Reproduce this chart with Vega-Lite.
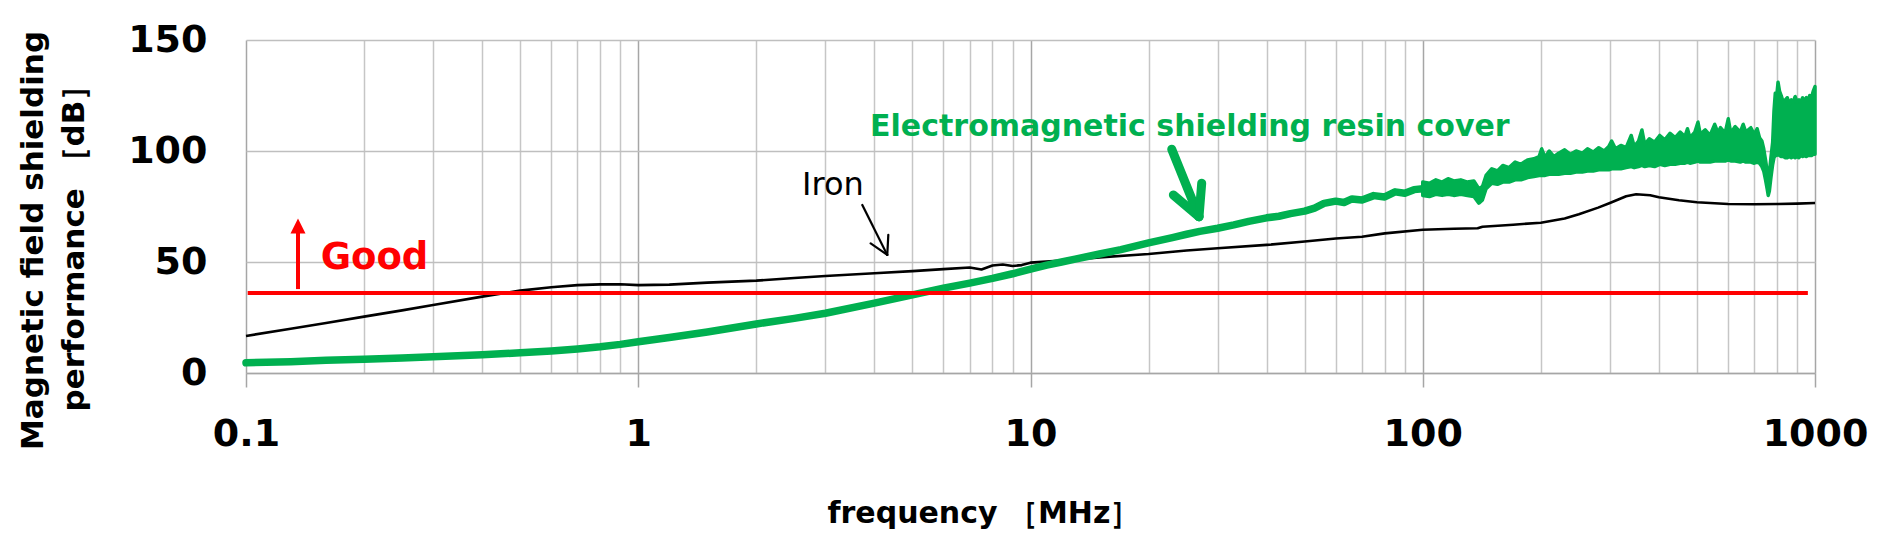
{
  "$schema": "https://vega.github.io/schema/vega-lite/v6.json",
  "width": 1569,
  "height": 333,
  "autosize": {"type": "none"},
  "padding": {"left": 246, "top": 40, "right": 85, "bottom": 165},
  "background": "white",
  "config": {"view": {"stroke": null}, "font": "DejaVu Sans"},
  "datasets": {
    "iron": [
      {"freq": 0.1, "db": 16.7}, {"freq": 0.13, "db": 19.9}, {"freq": 0.16, "db": 22.5}, {"freq": 0.2, "db": 25.4},
      {"freq": 0.25, "db": 28.2}, {"freq": 0.3, "db": 30.6}, {"freq": 0.4, "db": 34.4}, {"freq": 0.5, "db": 37.1},
      {"freq": 0.6, "db": 38.6}, {"freq": 0.7, "db": 39.6}, {"freq": 0.8, "db": 39.9}, {"freq": 0.9, "db": 40},
      {"freq": 1, "db": 39.6}, {"freq": 1.2, "db": 39.8}, {"freq": 1.5, "db": 40.7}, {"freq": 2, "db": 41.6},
      {"freq": 2.5, "db": 42.8}, {"freq": 3, "db": 43.7}, {"freq": 4, "db": 44.9}, {"freq": 5, "db": 45.9},
      {"freq": 6, "db": 46.8}, {"freq": 7, "db": 47.5}, {"freq": 7.5, "db": 46.6}, {"freq": 8, "db": 48.4},
      {"freq": 8.5, "db": 48.9}, {"freq": 9, "db": 48.2}, {"freq": 9.5, "db": 48.6}, {"freq": 10, "db": 49.7},
      {"freq": 12, "db": 50.6}, {"freq": 15, "db": 52.1}, {"freq": 20, "db": 53.6}, {"freq": 25, "db": 55.2},
      {"freq": 30, "db": 56.2}, {"freq": 40, "db": 57.7}, {"freq": 50, "db": 59.2}, {"freq": 60, "db": 60.6},
      {"freq": 70, "db": 61.4}, {"freq": 80, "db": 62.9}, {"freq": 100, "db": 64.5}, {"freq": 120, "db": 65},
      {"freq": 138, "db": 65.2}, {"freq": 142, "db": 65.9}, {"freq": 170, "db": 66.8}, {"freq": 200, "db": 67.7},
      {"freq": 230, "db": 69.6}, {"freq": 250, "db": 71.5}, {"freq": 280, "db": 74.5}, {"freq": 300, "db": 76.6},
      {"freq": 330, "db": 79.6}, {"freq": 350, "db": 80.5}, {"freq": 380, "db": 80.1}, {"freq": 400, "db": 79.2},
      {"freq": 450, "db": 77.8}, {"freq": 500, "db": 76.9}, {"freq": 600, "db": 76.1}, {"freq": 700, "db": 76},
      {"freq": 800, "db": 76.1}, {"freq": 900, "db": 76.3}, {"freq": 1000, "db": 76.6}
    ],
    "resin": [
      {"freq": 0.1, "db": 4.6}, {"freq": 0.13, "db": 5.1}, {"freq": 0.16, "db": 5.7}, {"freq": 0.2, "db": 6.2},
      {"freq": 0.25, "db": 6.8}, {"freq": 0.3, "db": 7.3}, {"freq": 0.4, "db": 8.2}, {"freq": 0.5, "db": 9.1},
      {"freq": 0.6, "db": 9.9}, {"freq": 0.7, "db": 10.8}, {"freq": 0.8, "db": 11.8}, {"freq": 0.9, "db": 12.9},
      {"freq": 1, "db": 14.1}, {"freq": 1.2, "db": 16.0}, {"freq": 1.5, "db": 18.5}, {"freq": 2, "db": 22.1},
      {"freq": 2.5, "db": 24.6}, {"freq": 3, "db": 26.9}, {"freq": 4, "db": 31.5}, {"freq": 5, "db": 35.2},
      {"freq": 6, "db": 38.2}, {"freq": 7, "db": 40.5}, {"freq": 8, "db": 42.6}, {"freq": 9, "db": 44.7},
      {"freq": 10, "db": 46.8}, {"freq": 11, "db": 48.6}, {"freq": 12, "db": 50}, {"freq": 13, "db": 51.3},
      {"freq": 15, "db": 53.6}, {"freq": 17, "db": 55.6}, {"freq": 20, "db": 58.6}, {"freq": 23, "db": 61},
      {"freq": 25, "db": 62.5}, {"freq": 27, "db": 63.8}, {"freq": 30, "db": 65.2}, {"freq": 33, "db": 66.7},
      {"freq": 36, "db": 68.3}, {"freq": 40, "db": 69.9}, {"freq": 43, "db": 70.6}, {"freq": 46, "db": 71.8},
      {"freq": 50, "db": 72.9}, {"freq": 53, "db": 74.3}, {"freq": 56, "db": 76.4}, {"freq": 60, "db": 77.4},
      {"freq": 63, "db": 76.8}, {"freq": 66, "db": 78.4}, {"freq": 70, "db": 77.9}, {"freq": 75, "db": 79.9},
      {"freq": 80, "db": 79.3}, {"freq": 85, "db": 81.6}, {"freq": 90, "db": 81}, {"freq": 95, "db": 82.6},
      {"freq": 100, "db": 83}, {"freq": 104, "db": 82.5}
    ],
    "resinband": [
      {"freq": 100, "db": 80, "db2": 86}, {"freq": 104, "db": 79.5, "db2": 85.5}, {"freq": 108, "db": 80.5, "db2": 87},
      {"freq": 112, "db": 80, "db2": 86}, {"freq": 116, "db": 80.5, "db2": 87.5}, {"freq": 120, "db": 80, "db2": 86.5},
      {"freq": 125, "db": 80.5, "db2": 87}, {"freq": 130, "db": 80, "db2": 86}, {"freq": 135, "db": 79.5, "db2": 86.5},
      {"freq": 139, "db": 76.5, "db2": 83}, {"freq": 142, "db": 78, "db2": 84}, {"freq": 145, "db": 83, "db2": 89},
      {"freq": 150, "db": 85.5, "db2": 92}, {"freq": 155, "db": 85, "db2": 91}, {"freq": 160, "db": 86, "db2": 93.5},
      {"freq": 166, "db": 86, "db2": 92.5}, {"freq": 172, "db": 87, "db2": 95}, {"freq": 178, "db": 87, "db2": 94},
      {"freq": 185, "db": 88, "db2": 96}, {"freq": 192, "db": 88.5, "db2": 96.5}, {"freq": 198, "db": 89, "db2": 97.5},
      {"freq": 201, "db": 89, "db2": 101}, {"freq": 205, "db": 89, "db2": 97}, {"freq": 210, "db": 89.5, "db2": 100},
      {"freq": 216, "db": 89.5, "db2": 97.5}, {"freq": 222, "db": 89.5, "db2": 99}, {"freq": 230, "db": 90, "db2": 100.5},
      {"freq": 238, "db": 90, "db2": 98.5}, {"freq": 246, "db": 90.5, "db2": 100}, {"freq": 255, "db": 90.5, "db2": 99},
      {"freq": 263, "db": 91, "db2": 101}, {"freq": 272, "db": 91, "db2": 99.5}, {"freq": 281, "db": 91.5, "db2": 101.5},
      {"freq": 290, "db": 91.5, "db2": 100}, {"freq": 298, "db": 91.5, "db2": 102}, {"freq": 303, "db": 92, "db2": 104.5},
      {"freq": 310, "db": 92, "db2": 101}, {"freq": 320, "db": 92, "db2": 102.5}, {"freq": 330, "db": 92.5, "db2": 101.5},
      {"freq": 340, "db": 93, "db2": 107}, {"freq": 346, "db": 92.5, "db2": 102}, {"freq": 355, "db": 93, "db2": 104.5},
      {"freq": 362, "db": 93.5, "db2": 109.5}, {"freq": 368, "db": 93, "db2": 103}, {"freq": 378, "db": 93.5, "db2": 105.5},
      {"freq": 390, "db": 93, "db2": 104}, {"freq": 402, "db": 94, "db2": 107}, {"freq": 414, "db": 93.5, "db2": 105},
      {"freq": 427, "db": 94, "db2": 108}, {"freq": 440, "db": 94, "db2": 106}, {"freq": 453, "db": 94.5, "db2": 108.5},
      {"freq": 466, "db": 94.5, "db2": 106.5}, {"freq": 473, "db": 95, "db2": 110}, {"freq": 480, "db": 94.5, "db2": 106},
      {"freq": 494, "db": 95, "db2": 108.5}, {"freq": 503, "db": 95.5, "db2": 113}, {"freq": 510, "db": 95, "db2": 107.5},
      {"freq": 525, "db": 95, "db2": 109.5}, {"freq": 540, "db": 95, "db2": 107}, {"freq": 555, "db": 95.5, "db2": 112},
      {"freq": 566, "db": 95.5, "db2": 108}, {"freq": 574, "db": 95.5, "db2": 110.5}, {"freq": 590, "db": 95.5, "db2": 108},
      {"freq": 601, "db": 96, "db2": 114.5}, {"freq": 610, "db": 95.5, "db2": 108}, {"freq": 626, "db": 95.5, "db2": 111},
      {"freq": 645, "db": 95, "db2": 108.5}, {"freq": 656, "db": 95.5, "db2": 112}, {"freq": 666, "db": 95, "db2": 108.5},
      {"freq": 686, "db": 95, "db2": 110.5}, {"freq": 700, "db": 94.5, "db2": 107.5}, {"freq": 712, "db": 95, "db2": 110},
      {"freq": 722, "db": 94.5, "db2": 106}, {"freq": 732, "db": 93, "db2": 104.5}, {"freq": 740, "db": 91, "db2": 101},
      {"freq": 748, "db": 87, "db2": 96}, {"freq": 755, "db": 83, "db2": 91}, {"freq": 760, "db": 80, "db2": 87},
      {"freq": 765, "db": 82, "db2": 90}, {"freq": 772, "db": 88, "db2": 97}, {"freq": 780, "db": 94, "db2": 104},
      {"freq": 786, "db": 97, "db2": 118}, {"freq": 792, "db": 98, "db2": 126}, {"freq": 798, "db": 98, "db2": 124},
      {"freq": 805, "db": 99, "db2": 131}, {"freq": 812, "db": 98, "db2": 127}, {"freq": 820, "db": 97.5, "db2": 125},
      {"freq": 830, "db": 97.5, "db2": 122}, {"freq": 840, "db": 97, "db2": 123}, {"freq": 850, "db": 97, "db2": 124},
      {"freq": 860, "db": 97.5, "db2": 121}, {"freq": 870, "db": 97, "db2": 123}, {"freq": 880, "db": 97.5, "db2": 122},
      {"freq": 890, "db": 97, "db2": 124.5}, {"freq": 900, "db": 97.5, "db2": 122}, {"freq": 910, "db": 97, "db2": 123},
      {"freq": 920, "db": 98, "db2": 122}, {"freq": 930, "db": 97.5, "db2": 124}, {"freq": 940, "db": 98, "db2": 122.5},
      {"freq": 950, "db": 97.5, "db2": 124}, {"freq": 960, "db": 98, "db2": 123}, {"freq": 970, "db": 98, "db2": 125},
      {"freq": 980, "db": 98, "db2": 124}, {"freq": 990, "db": 98.5, "db2": 127}, {"freq": 1000, "db": 98.5, "db2": 129}
    ],
    "segments": [
      {"kind": "criterion", "freq": 0.101, "db": 36, "freq2": 959, "db2": 36},
      {"kind": "good arrow", "freq": 0.1357, "db": 37.8, "freq2": 0.1357, "db2": 63.5},
      {"kind": "iron arrow", "freq": 3.726, "db": 75.7, "freq2": 4.314, "db2": 53.2},
      {"kind": "iron arrow", "freq": 3.913, "db": 58.4, "freq2": 4.314, "db2": 53.2},
      {"kind": "iron arrow", "freq": 4.34, "db": 62.2, "freq2": 4.314, "db2": 53.2},
      {"kind": "resin arrow", "freq": 22.91, "db": 100.8, "freq2": 26.89, "db2": 70.4},
      {"kind": "resin arrow", "freq": 23.13, "db": 80.2, "freq2": 26.89, "db2": 70.4},
      {"kind": "resin arrow", "freq": 27.32, "db": 85.5, "freq2": 26.89, "db2": 70.4}
    ],
    "heads": [
      {"kind": "good arrow head", "freq": 0.1357, "db": 66.2}
    ],
    "labels": [
      {"kind": "good", "label": "Good", "freq": 0.155, "db": 46.7},
      {"kind": "iron", "label": "Iron", "freq": 2.615, "db": 80.2},
      {"kind": "resin", "label": "Electromagnetic shielding resin cover", "freq": 3.9, "db": 106.8}
    ]
  },
  "encoding": {
    "x": {
      "field": "freq",
      "type": "quantitative",
      "scale": {"type": "log", "domain": [0.1, 1000]},
      "axis": {
        "values": [0.1, 0.2, 0.3, 0.4, 0.5, 0.6, 0.7, 0.8, 0.9, 1, 2, 3, 4, 5, 6, 7, 8, 9, 10, 20, 30, 40, 50, 60, 70, 80, 90, 100, 200, 300, 400, 500, 600, 700, 800, 900, 1000],
        "format": "~g",
        "labelExpr": "indexof([0.1, 1, 10, 100, 1000], datum.value) >= 0 ? datum.label : ''",
        "grid": true,
        "gridColor": {"condition": {"test": "indexof([0.1, 1, 10, 100, 1000], datum.value) >= 0", "value": "#a6a6a6"}, "value": "#c6c6c6"},
        "gridWidth": 1.5,
        "ticks": true,
        "tickSize": 14,
        "tickColor": "#a6a6a6",
        "tickWidth": 1.5,
        "tickOpacity": {"condition": {"test": "indexof([0.1, 1, 10, 100, 1000], datum.value) >= 0", "value": 1}, "value": 0},
        "domain": true,
        "domainColor": "#a6a6a6",
        "domainWidth": 1.5,
        "labelFont": "DejaVu Sans",
        "labelFontWeight": "bold",
        "labelFontSize": 38,
        "labelColor": "#000000",
        "labelPadding": 28,
        "labelFlush": false,
        "labelOverlap": false,
        "labelBound": false,
        "title": "frequency ［MHz］",
        "titleFont": "DejaVu Sans",
        "titleFontWeight": "bold",
        "titleFontSize": 30,
        "titleColor": "#000000",
        "titleX": 581,
        "titleY": 149,
        "titleAlign": "left",
        "titleBaseline": "alphabetic"
      }
    },
    "y": {
      "field": "db",
      "type": "quantitative",
      "scale": {"domain": [0, 150], "nice": false},
      "axis": {
        "values": [0, 50, 100, 150],
        "grid": true,
        "gridColor": "#bfbfbf",
        "gridWidth": 1.5,
        "ticks": false,
        "domain": false,
        "labelFont": "DejaVu Sans",
        "labelFontWeight": "bold",
        "labelFontSize": 38,
        "labelColor": "#000000",
        "labelPadding": 39,
        "labelBound": false,
        "title": ["Magnetic field shielding", "performance ［dB］"],
        "titleFont": "DejaVu Sans",
        "titleFontWeight": "bold",
        "titleFontSize": 31,
        "titleColor": "#000000",
        "titleLineHeight": 41,
        "titleAngle": -90,
        "titleX": -228,
        "titleY": 200,
        "titleAlign": "center",
        "titleBaseline": "top"
      }
    }
  },
  "layer": [
    {
      "data": {"name": "iron"},
      "mark": {"type": "line", "color": "#000000", "strokeWidth": 2.6, "strokeJoin": "round"}
    },
    {
      "data": {"name": "resin"},
      "mark": {"type": "line", "color": "#00b050", "strokeWidth": 7.5, "strokeJoin": "round", "strokeCap": "round"}
    },
    {
      "data": {"name": "resinband"},
      "mark": {"type": "area", "color": "#00b050", "opacity": 1, "stroke": "#00b050", "strokeWidth": 3.5, "strokeJoin": "round"},
      "encoding": {"y2": {"field": "db2"}}
    },
    {
      "data": {"name": "segments"},
      "transform": [{"filter": "datum.kind === 'criterion'"}],
      "mark": {"type": "rule", "color": "#ff0000", "strokeWidth": 4},
      "encoding": {"x2": {"field": "freq2"}, "y2": {"field": "db2"}}
    },
    {
      "data": {"name": "segments"},
      "transform": [{"filter": "datum.kind === 'good arrow'"}],
      "mark": {"type": "rule", "color": "#ff0000", "strokeWidth": 4},
      "encoding": {"x2": {"field": "freq2"}, "y2": {"field": "db2"}}
    },
    {
      "data": {"name": "segments"},
      "transform": [{"filter": "datum.kind === 'iron arrow'"}],
      "mark": {"type": "rule", "color": "#000000", "strokeWidth": 2.2, "strokeCap": "round"},
      "encoding": {"x2": {"field": "freq2"}, "y2": {"field": "db2"}}
    },
    {
      "data": {"name": "segments"},
      "transform": [{"filter": "datum.kind === 'resin arrow'"}],
      "mark": {"type": "rule", "color": "#00b050", "strokeWidth": 9, "strokeCap": "round"},
      "encoding": {"x2": {"field": "freq2"}, "y2": {"field": "db2"}}
    },
    {
      "data": {"name": "heads"},
      "mark": {"type": "point", "shape": "M0,-1L1,1L-1,1Z", "filled": true, "color": "#ff0000", "size": 225, "opacity": 1, "strokeWidth": 0}
    },
    {
      "data": {"name": "labels"},
      "transform": [{"filter": "datum.kind === 'good'"}],
      "mark": {"type": "text", "align": "left", "baseline": "alphabetic", "font": "DejaVu Sans", "fontWeight": "bold", "fontSize": 37, "color": "#ff0000"},
      "encoding": {"text": {"field": "label"}}
    },
    {
      "data": {"name": "labels"},
      "transform": [{"filter": "datum.kind === 'iron'"}],
      "mark": {"type": "text", "align": "left", "baseline": "alphabetic", "font": "DejaVu Sans", "fontSize": 32, "color": "#000000"},
      "encoding": {"text": {"field": "label"}}
    },
    {
      "data": {"name": "labels"},
      "transform": [{"filter": "datum.kind === 'resin'"}],
      "mark": {"type": "text", "align": "left", "baseline": "alphabetic", "font": "DejaVu Sans", "fontWeight": "bold", "fontSize": 30, "color": "#00b050"},
      "encoding": {"text": {"field": "label"}}
    }
  ]
}
